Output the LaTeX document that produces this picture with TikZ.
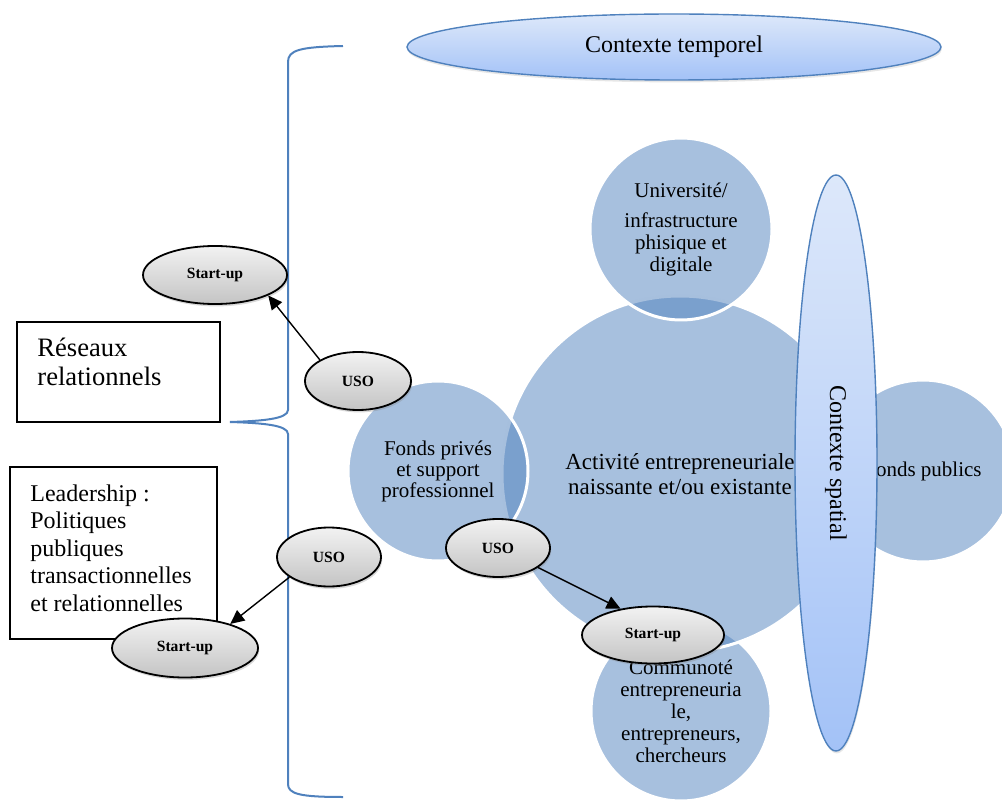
\documentclass[tikz,border=0pt]{standalone}
\usepackage{fontspec}
\setmainfont{Liberation Serif}
\usetikzlibrary{shapes.geometric, arrows.meta, shadows}
\definecolor{officeblue}{HTML}{4F81BD}
\definecolor{ctxtop}{HTML}{DDE8FA}
\definecolor{ctxbottom}{HTML}{A3C2F7}
\definecolor{ovaltop}{HTML}{F2F2F2}
\definecolor{ovalbottom}{HTML}{C4C4C4}

\begin{document}
\begin{tikzpicture}[x=0.5pt, y=-0.5pt,
    venn/.style={circle, fill=officeblue, fill opacity=0.5, text opacity=1, draw=white, line width=1.5pt,
      inner sep=0pt, align=center, font=\fontsize{10.5}{11}\selectfont},
    context/.style={ellipse, draw=officeblue, line width=0.7pt, top color=ctxtop, bottom color=ctxbottom,
      drop shadow={shadow xshift=0.4pt, shadow yshift=-1.2pt, opacity=0.2}, inner sep=0pt},
    oval/.style={ellipse, draw=black, line width=0.9pt, top color=ovaltop, bottom color=ovalbottom,
      drop shadow={shadow xshift=0.6pt, shadow yshift=-1.2pt, opacity=0.3}, inner sep=0pt,
      font=\fontsize{7.8}{9}\selectfont\bfseries},
    framebox/.style={rectangle, draw=black, line width=0.8pt, inner sep=0pt},
    link/.style={-{Triangle[length=7pt, width=6.5pt]}, line width=0.7pt}]
  \useasboundingbox (0,0) rectangle (1002,802);
  % Circles
  \node[venn, minimum size=90pt] (communaute) at (681,711)
    {Communoté\\entrepreneuria\\le,\\entrepreneurs,\\chercheurs};
  \node[venn, minimum size=178pt, font=\fontsize{11.5}{12.5}\selectfont] (activite) at (680,474)
    {Activité entrepreneuriale\\naissante et/ou existante};
  \node[venn, minimum size=91pt] (universite) at (681,229)
    {Université/\\[4pt]infrastructure\\phisique et\\digitale};
  \node[venn, minimum size=90pt, font=\fontsize{10.5}{10.5}\selectfont] (prives) at (438,471)
    {Fonds privés\\et support\\professionnel};
  \node[venn, minimum size=91pt] (publics) at (923,471) {Fonds publics};
  % Contexts
  \node[context, minimum width=41pt, minimum height=288pt, font=\fontsize{12}{14}\selectfont] (spatial) at (836,463)
    {\rotatebox{-90}{Contexte spatial}};
  \node[context, minimum width=267pt, minimum height=33pt, font=\fontsize{12}{14}\selectfont] (temporel) at (674,47)
    {Contexte temporel};
  % Brace
  \draw[officeblue, line width=1pt] (343,46) .. controls (300,47) and (288,50) .. (288,62) -- (288,410)
    .. controls (288,419) and (262,421) .. (230,422) .. controls (262,423) and (288,425) .. (288,434)
    -- (288,784) .. controls (288,794) and (300,797) .. (343,797);
  % Boxes
  \node[framebox, minimum width=101.5pt, minimum height=50pt] (reseaux) at (118.5,372) {};
  \node[anchor=north west, inner sep=0pt, align=left, font=\fontsize{13.3}{14.5}\selectfont] (reseauxtext) at (37,338)
    {Réseaux\\relationnels};
  \node[framebox, minimum width=103.5pt, minimum height=86pt] (leadership) at (113.5,553) {};
  \node[anchor=north west, inner sep=0pt, align=left, font=\fontsize{12}{13.75}\selectfont] (leadershiptext) at (30,484)
    {Leadership :\\Politiques\\publiques\\transactionnelles\\et relationnelles};
  % Spin-offs
  \node[oval, minimum width=72pt, minimum height=29pt] (startupA) at (215,275) {Start-up};
  \node[oval, minimum width=53pt, minimum height=29pt] (usoA) at (358,381) {USO};
  \node[oval, minimum width=52pt, minimum height=29.5pt] (usoB) at (329,557) {USO};
  \node[oval, minimum width=73pt, minimum height=29.5pt] (startupB) at (185,648) {Start-up};
  \node[oval, minimum width=52pt, minimum height=29pt] (usoC) at (498,548) {USO};
  \node[oval, minimum width=71pt, minimum height=28.5pt] (startupC) at (653,635) {Start-up};
  % Arrows
  \draw[link] (usoA.151) -- (startupA.-21);
  \draw[link] (usoB.207) -- (startupB.28);
  \draw[link] (usoC.-26) -- (startupC.141);
\end{tikzpicture}
\end{document}
